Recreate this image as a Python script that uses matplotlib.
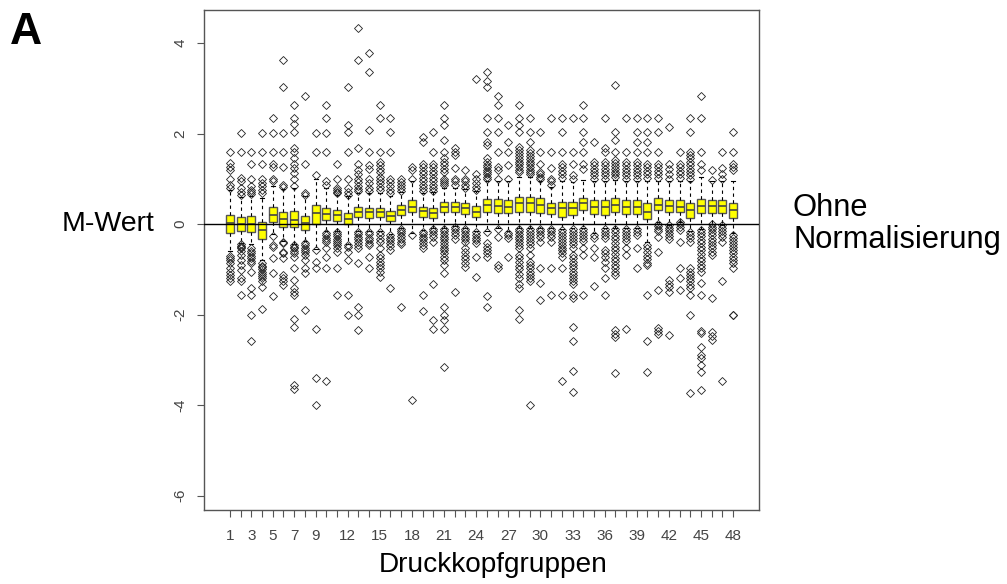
import matplotlib
matplotlib.use("Agg")
import matplotlib.pyplot as plt

plt.rcParams['font.family'] = ['Liberation Sans', 'DejaVu Sans']

# box statistics per print-head group
groups = list(range(1, 49))
q1 = [-0.20, -0.15, -0.18, -0.32, 0.04, -0.07, -0.07, -0.13, 0.01, 0.09,
      0.07, -0.01, 0.16, 0.14, 0.15, 0.07, 0.21, 0.26, 0.16, 0.13,
      0.27, 0.27, 0.22, 0.16, 0.27, 0.24, 0.24, 0.27, 0.27, 0.24,
      0.22, 0.16, 0.21, 0.31, 0.22, 0.21, 0.27, 0.22, 0.22, 0.11,
      0.31, 0.26, 0.26, 0.13, 0.24, 0.25, 0.24, 0.13]
med = [0.03, 0.00, 0.00, -0.13, 0.20, 0.11, 0.10, 0.02, 0.24, 0.22,
       0.20, 0.11, 0.27, 0.26, 0.26, 0.18, 0.32, 0.38, 0.29, 0.24,
       0.38, 0.38, 0.35, 0.27, 0.42, 0.40, 0.38, 0.46, 0.46, 0.42,
       0.35, 0.36, 0.36, 0.46, 0.37, 0.37, 0.42, 0.37, 0.37, 0.27,
       0.43, 0.40, 0.38, 0.31, 0.40, 0.40, 0.40, 0.31]
q3 = [0.20, 0.16, 0.18, 0.04, 0.37, 0.27, 0.29, 0.18, 0.42, 0.35,
      0.31, 0.24, 0.38, 0.36, 0.36, 0.29, 0.43, 0.52, 0.38, 0.35,
      0.49, 0.48, 0.46, 0.40, 0.55, 0.55, 0.53, 0.60, 0.60, 0.58,
      0.47, 0.49, 0.49, 0.58, 0.52, 0.52, 0.57, 0.52, 0.52, 0.46,
      0.57, 0.53, 0.52, 0.47, 0.55, 0.53, 0.53, 0.47]
whis_lo = [-0.60, -0.42, -0.45, -0.80, -0.22, -0.38, -0.45, -0.38, -0.55, -0.15,
           -0.15, -0.45, -0.15, -0.15, -0.15, -0.22, -0.08, -0.20, -0.13, -0.08,
           -0.08, -0.05, -0.08, -0.15, -0.15, -0.08, -0.15, -0.08, -0.08, -0.08,
           -0.08, -0.10, -0.08, -0.08, -0.20, -0.08, -0.08, -0.08, -0.08, -0.40,
           0.05, -0.02, 0.05, -0.15, -0.10, 0.00, -0.02, -0.20]
whis_hi = [0.75, 0.60, 0.62, 0.58, 0.85, 0.78, 0.80, 0.62, 1.00, 0.80,
           0.65, 0.62, 0.68, 0.68, 0.68, 0.62, 0.70, 0.95, 0.68, 0.70,
           0.80, 0.80, 0.78, 0.72, 0.95, 0.95, 0.95, 1.05, 1.05, 0.95,
           0.82, 0.95, 0.92, 0.98, 0.95, 0.95, 0.98, 0.95, 0.95, 0.95,
           0.95, 0.95, 0.95, 0.95, 1.05, 0.95, 0.95, 0.95]
outliers = [
    [1.6, 1.34, 1.27, 1.19, 1.0, 0.86, 0.8, -0.7, -0.75, -0.8, -0.87, -0.98, -1.05, -1.13, -1.2, -1.27],
    [2.02, 1.6, 1.01, 0.94, 0.79, 0.71, 0.65, -0.45, -0.48, -0.5, -0.54, -0.6, -0.69, -0.8, -0.9, -1.02, -1.2, -1.27, -1.57],
    [1.6, 1.33, 1.0, 0.85, 0.75, 0.71, 0.67, -0.54, -0.6, -0.65, -0.7, -0.76, -0.82, -0.87, -1.05, -1.42, -1.57, -2.01, -2.59],
    [2.02, 1.6, 1.33, 1.0, 0.9, 0.83, 0.75, 0.68, -0.87, -0.92, -0.96, -1.0, -1.05, -1.1, -1.15, -1.2, -1.27, -1.4, -1.88],
    [2.35, 2.02, 1.6, 1.33, 1.27, 1.0, 0.94, -0.27, -0.46, -0.5, -0.76, -1.09, -1.58],
    [3.62, 3.03, 2.02, 1.6, 1.27, 0.86, 0.82, -0.39, -0.42, -0.61, -0.65, -0.76, -1.13, -1.2, -1.27, -1.35],
    [2.62, 2.35, 2.22, 2.03, 1.67, 1.6, 1.45, 1.33, 1.23, 1.12, 1.0, 0.83, -0.46, -0.5, -0.54, -0.6, -0.65,
     -0.72, -0.98, -1.24, -1.42, -1.5, -1.57, -2.1, -2.28, -3.56, -3.65],
    [2.84, 1.33, 0.68, 0.64, -0.42, -0.47, -0.52, -0.57, -0.62, -0.69, -0.8, -0.98, -1.09, -1.9],
    [2.02, 1.6, 1.08, -0.57, -0.83, -0.98, -2.33, -3.41, -4.01],
    [2.62, 2.35, 2.02, 1.6, 0.94, 0.86, -0.19, -0.25, -0.3, -0.35, -0.39, -0.54, -0.72, -0.98, -3.48],
    [1.33, 1.0, 0.79, 0.75, 0.71, 0.68, -0.17, -0.22, -0.27, -0.32, -0.37, -0.42, -0.47, -0.54, -0.61, -0.98, -1.57],
    [3.03, 2.19, 2.03, 1.6, 1.0, 0.79, 0.7, 0.64, -0.46, -0.5, -0.61, -0.8, -1.57, -2.01],
    [4.34, 3.62, 1.67, 1.33, 1.2, 1.1, 1.0, 0.93, 0.85, 0.78, 0.72, -0.17, -0.22, -0.28, -0.34, -0.4, -0.46,
     -0.54, -0.87, -1.83, -2.01, -2.34],
    [3.79, 3.35, 2.08, 1.6, 1.3, 1.22, 1.0, 0.9, 0.79, 0.72, -0.17, -0.23, -0.3, -0.36, -0.42, -0.46, -0.72, -0.98],
    [2.62, 2.35, 1.6, 1.37, 1.3, 1.22, 1.14, 1.05, 0.98, 0.9, 0.82, 0.75, -0.17, -0.25, -0.33, -0.4, -0.54,
     -0.69, -0.76, -0.84, -0.9, -0.98, -1.05, -1.16],
    [2.35, 2.03, 1.6, 1.0, 0.92, 0.84, 0.76, 0.68, -0.24, -0.3, -0.36, -0.42, -0.48, -0.57, -1.42],
    [1.0, 0.93, 0.86, 0.79, 0.74, -0.1, -0.15, -0.2, -0.26, -0.32, -0.39, -0.45, -1.83],
    [1.27, 1.19, 1.0, -0.24, -3.9],
    [1.93, 1.82, 1.33, 1.25, 1.17, 1.1, 1.02, 0.95, 0.87, 0.8, 0.73, -0.17, -0.22, -0.28, -0.34, -0.4, -0.46,
     -0.54, -1.57, -1.92],
    [2.03, 1.6, 1.33, 1.25, 1.17, 1.1, 1.02, 0.94, 0.86, 0.79, 0.74, -0.1, -0.16, -0.22, -0.28, -0.39, -1.33,
     -2.12, -2.31],
    [2.62, 2.35, 2.19, 1.86, 1.6, 1.45, 1.38, 1.3, 1.22, 1.16, 1.0, 0.95, 0.9, 0.86, -0.1, -0.16, -0.22, -0.28,
     -0.34, -0.4, -0.46, -0.52, -0.58, -0.65, -0.72, -0.8, -0.9, -1.09, -1.83, -2.01, -2.12, -2.31, -3.17],
    [1.67, 1.6, 1.52, 1.23, 1.0, 0.94, 0.86, -0.06, -0.12, -0.18, -0.24, -0.32, -1.51],
    [1.19, 1.0, 0.94, 0.86, 0.79, -0.1, -0.16, -0.22, -0.28, -0.34, -0.39, -0.54, -0.62, -0.7, -0.78, -0.86, -0.94],
    [3.2, 1.1, 1.0, 0.9, 0.82, 0.75, -0.17, -0.24, -0.3, -0.36, -0.43, -0.72, -1.16],
    [3.35, 3.15, 3.03, 2.35, 2.03, 1.82, 1.75, 1.45, 1.38, 1.3, 1.25, 1.2, 1.15, 1.1, 1.05, 1.0, -0.17, -0.43,
     -0.5, -0.57, -0.64, -0.72, -1.58, -1.83],
    [2.84, 2.62, 2.35, 2.03, 1.6, 1.27, 1.19, 1.0, -0.1, -0.28, -0.91, -0.98],
    [2.19, 1.82, 1.6, 1.3, 1.0, -0.2, -0.25, -0.31, -0.72],
    [2.62, 2.35, 2.19, 2.03, 1.71, 1.64, 1.57, 1.5, 1.44, 1.38, 1.32, 1.26, 1.2, 1.15, -0.1, -0.16, -0.22,
     -0.28, -0.34, -0.4, -0.46, -0.54, -0.69, -0.76, -0.84, -0.92, -1.0, -1.1, -1.2, -1.33, -1.42, -1.9, -2.1],
    [2.35, 2.03, 1.82, 1.64, 1.57, 1.5, 1.44, 1.38, 1.32, 1.26, 1.2, 1.15, 1.1, -0.1, -0.17, -0.24, -0.3,
     -0.37, -0.44, -0.52, -0.69, -0.83, -0.9, -0.98, -1.05, -1.12, -1.2, -1.27, -3.99],
    [2.03, 1.6, 1.33, 1.16, 1.1, 1.05, 1.0, -0.1, -0.16, -0.22, -0.28, -0.39, -0.98, -1.31, -1.68],
    [2.35, 1.6, 1.23, 1.0, 0.94, 0.86, -0.1, -0.16, -0.22, -0.28, -0.39, -0.98, -1.57],
    [2.35, 2.03, 1.6, 1.33, 1.25, 1.17, 1.1, 1.02, -0.13, -0.2, -0.27, -0.34, -0.4, -0.47, -0.53, -0.57,
     -0.65, -0.72, -0.98, -1.57, -3.48],
    [2.35, 1.6, 1.33, 1.08, 1.0, -0.1, -0.17, -0.24, -0.31, -0.38, -0.45, -0.52, -0.69, -0.76, -0.83, -0.9,
     -0.98, -1.05, -1.13, -1.2, -1.27, -1.33, -1.57, -1.64, -2.27, -2.59, -3.25, -3.72],
    [2.62, 2.35, 2.03, 1.82, 1.6, 1.33, 1.22, -0.1, -0.17, -0.24, -0.31, -0.38, -0.54, -0.69, -1.57],
    [1.82, 1.38, 1.3, 1.22, 1.15, 1.08, 1.0, -0.24, -0.31, -0.54, -0.72, -1.38],
    [2.35, 1.67, 1.6, 1.38, 1.3, 1.22, 1.15, 1.08, 1.0, -0.1, -0.17, -0.24, -0.31, -0.57, -0.64, -0.72,
     -0.83, -0.98, -1.2, -1.57],
    [3.07, 2.03, 1.86, 1.6, 1.42, 1.35, 1.28, 1.22, 1.16, 1.1, 1.05, -0.1, -0.18, -0.26, -0.34, -0.42, -0.5,
     -0.58, -0.66, -0.74, -0.82, -0.9, -0.98, -1.06, -1.13, -2.34, -2.42, -2.49, -3.3],
    [2.35, 1.6, 1.38, 1.3, 1.22, 1.15, 1.08, 1.0, -0.1, -0.17, -0.24, -0.31, -0.38, -0.54, -0.69, -2.32],
    [2.35, 2.03, 1.82, 1.6, 1.38, 1.3, 1.22, 1.15, 1.08, 1.0, -0.1, -0.17, -0.24, -0.54, -0.98],
    [2.35, 2.03, 1.82, 1.6, 1.33, 1.25, 1.17, 1.1, 1.02, -0.46, -0.54, -0.62, -0.7, -0.78, -0.86, -0.91,
     -1.57, -2.58, -3.28],
    [2.35, 2.03, 1.6, 1.33, 1.25, 1.17, 1.1, 1.02, 0.0, -0.05, -0.1, -0.15, -0.28, -0.61, -1.46, -2.3,
     -2.36, -2.42],
    [2.15, 1.33, 1.22, 1.1, 1.0, -0.02, -0.08, -0.14, -0.2, -0.26, -0.32, -1.24, -1.32, -1.4, -1.5, -2.45],
    [1.6, 1.33, 1.25, 1.17, 1.1, 1.02, 0.05, 0.0, -0.06, -0.13, -0.39, -0.98, -1.2, -1.46],
    [2.35, 2.03, 1.6, 1.53, 1.46, 1.38, 1.3, 1.22, 1.15, 1.08, 1.0, -0.17, -0.24, -0.31, -0.39, -0.98, -1.05,
     -1.13, -1.2, -1.27, -1.35, -1.42, -1.57, -2.01, -3.74],
    [2.84, 2.35, 1.6, 1.33, 1.2, -0.13, -0.2, -0.27, -0.35, -0.43, -0.5, -0.58, -0.66, -0.74, -0.82, -0.9,
     -0.98, -1.06, -1.31, -1.57, -2.36, -2.4, -2.71, -2.9, -2.97, -3.12, -3.26, -3.67],
    [1.19, 0.97, 0.0, -0.06, -0.12, -0.18, -0.25, -0.32, -0.39, -0.46, -0.54, -0.61, -0.69, -1.64, -2.38,
     -2.47, -2.56],
    [1.6, 1.23, 1.1, 1.0, -0.02, -0.08, -0.15, -0.22, -0.28, -0.39, -1.27, -3.48],
    [2.03, 1.6, 1.33, 1.25, 1.2, -0.24, -0.3, -0.37, -0.44, -0.5, -0.58, -0.65, -0.72, -0.8, -0.87, -0.98,
     -2.0, -2.02],
]
shown_labels = [1, 3, 5, 7, 9, 12, 15, 18, 21, 24, 27, 30, 33, 36, 39, 42, 45, 48]
y_ticks = [-6, -4, -2, 0, 2, 4]

stats = []
for i in range(len(groups)):
    stats.append({'med': med[i], 'q1': q1[i], 'q3': q3[i],
                  'whislo': whis_lo[i], 'whishi': whis_hi[i],
                  'fliers': outliers[i]})

fig = plt.figure(figsize=(10.07, 5.84), dpi=100)
ax = fig.add_axes([204 / 1007, 1 - 510 / 584, 555 / 1007, 500 / 584])

ax.bxp(stats, positions=groups, widths=0.75, capwidths=0.37, patch_artist=True,
       manage_ticks=False,
       boxprops=dict(facecolor='#ffff00', edgecolor='#555555', linewidth=1.0),
       medianprops=dict(color='#444444', linewidth=1.2),
       whiskerprops=dict(color='black', linewidth=0.8, linestyle=(0, (3, 3))),
       capprops=dict(color='black', linewidth=0.8),
       flierprops=dict(marker='D', markersize=3.7, markerfacecolor='none',
                       markeredgecolor='#222222', markeredgewidth=0.6))
ax.axhline(0, color='black', linewidth=1.0, zorder=5)

ax.set_xlim(-1.42, 50.42)
ax.set_ylim(-6.32, 4.73)
ax.set_xticks(groups)
ax.set_xticklabels([str(g) if g in shown_labels else '' for g in groups])
ax.set_yticks(y_ticks)
ax.set_yticklabels([str(v) for v in y_ticks], rotation=90, va='center')
ax.tick_params(axis='both', direction='out', length=5, width=0.8, color='#555555',
               labelcolor='#444444', labelsize=11)
ax.tick_params(axis='x', pad=9)
ax.tick_params(axis='y', pad=7)
for s in ax.spines.values():
    s.set_color('#555555')
    s.set_linewidth(1.0)

fig.text(10 / 1007, 1 - 12 / 584, 'A', fontsize=32, fontweight='bold', ha='left', va='top')
fig.text(155 / 1007, 1 - 224 / 584, 'M-Wert', fontsize=20.5, ha='right', va='center')
fig.text(793 / 1007, 1 - 224 / 584, 'Ohne\nNormalisierung', fontsize=22.2, ha='left',
         va='center', linespacing=1.12)
fig.text(493 / 1007, 1 - 565 / 584, 'Druckkopfgruppen', fontsize=20.2, ha='center', va='center')

fig.savefig('out.png', dpi=100)
